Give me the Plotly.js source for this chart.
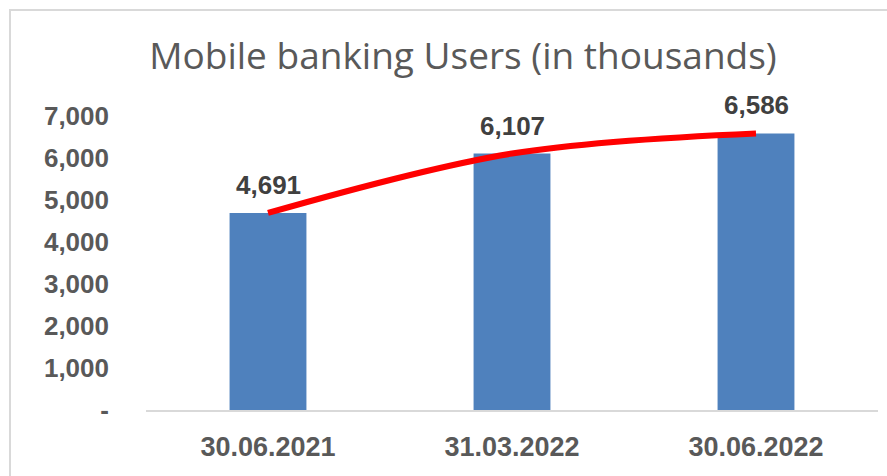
<!DOCTYPE html>
<html>
<head>
<meta charset="utf-8">
<script src="https://cdn.plot.ly/plotly-3.0.1.min.js"></script>
<style>
  html, body { margin: 0; padding: 0; background: #fff; overflow: hidden; }
  #frame { position: absolute; left: 9px; top: 9px; width: 900px; height: 500px; border: 2px solid #d9d9d9; box-sizing: border-box; pointer-events: none; z-index: 5; }
  #chart { position: absolute; left: 0; top: 0; width: 887px; height: 476px; }
</style>
</head>
<body>
<div id="chart"></div>
<div id="frame"></div>
<script>
const categories = ["30.06.2021", "31.03.2022", "30.06.2022"];
const users = [4691, 6107, 6586];
const yTickVals = [0, 1000, 2000, 3000, 4000, 5000, 6000, 7000];
const yTickText = ["-", "1,000", "2,000", "3,000", "4,000", "5,000", "6,000", "7,000"];

const fmt = v => v.toLocaleString("en-US");

const bars = {
  type: "bar",
  x: categories,
  y: users,
  width: 0.315,
  marker: { color: "#4F81BD" },
  hoverinfo: "none"
};

const trend = {
  type: "scatter",
  mode: "lines",
  x: categories,
  y: users,
  line: { color: "#FF0000", width: 6, shape: "spline", smoothing: 1 },
  hoverinfo: "none"
};

const labels = categories.map((c, i) => ({
  x: c, y: users[i], xref: "x", yref: "y",
  text: "<b>" + fmt(users[i]) + "</b>",
  showarrow: false, xanchor: "center", yanchor: "middle", yshift: 28,
  font: { family: "Liberation Sans, Arial, sans-serif", size: 26, color: "#404040" }
}));

const layout = {
  width: 887,
  height: 476,
  margin: { l: 146, r: 9, t: 74, b: 66 },
  paper_bgcolor: "#ffffff",
  plot_bgcolor: "#ffffff",
  showlegend: false,
  annotations: labels,
  title: {
    text: "Mobile banking Users (in thousands)",
    font: { family: "Open Sans, sans-serif", size: 37, color: "#595959" },
    x: 0.522, xanchor: "center",
    y: 1 - 56 / 476, yanchor: "middle"
  },
  xaxis: {
    type: "category",
    showline: true,
    linecolor: "#d9d9d9",
    linewidth: 2,
    ticks: "",
    showgrid: false,
    tickfont: { family: "Liberation Sans, sans-serif", size: 27, color: "#595959", weight: "bold" },
    ticklabelstandoff: 12
  },
  yaxis: {
    range: [0, 8000],
    tickvals: yTickVals,
    ticktext: yTickText,
    showgrid: false,
    zeroline: false,
    showline: false,
    ticks: "",
    tickfont: { family: "Liberation Sans, Arial, sans-serif", size: 26, color: "#595959", weight: "bold" },
    ticklabelstandoff: 36
  }
};

Plotly.newPlot("chart", [bars, trend], layout, { staticPlot: true, displayModeBar: false });
</script>
</body>
</html>
